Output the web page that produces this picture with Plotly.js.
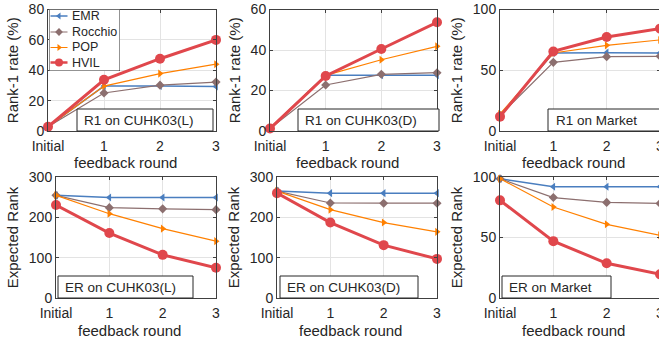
<!DOCTYPE html>
<html>
<head>
<meta charset="utf-8">
<script src="https://cdn.plot.ly/plotly-3.0.1.min.js"></script>
<style>
html,body{margin:0;padding:0;overflow:hidden;background:#fff;width:659px;height:341px;}
#chart{width:662px;height:341px;}
</style>
</head>
<body>
<div id="chart"></div>
<script>
// ---- data ----
const rounds = ['Initial', '1', '2', '3'];
const methods = ['EMR', 'Rocchio', 'POP', 'HVIL'];

const R1_L_EMR     = [2.8, 29.6, 29.6, 29.3];
const R1_L_Rocchio = [2.8, 25.0, 30.2, 32.2];
const R1_L_POP     = [2.8, 29.6, 37.8, 44.0];
const R1_L_HVIL    = [2.8, 33.7, 47.6, 60.0];

const R1_D_EMR     = [1.2, 27.5, 27.5, 27.5];
const R1_D_Rocchio = [1.2, 22.7, 28.0, 28.8];
const R1_D_POP     = [1.5, 27.5, 35.2, 41.8];
const R1_D_HVIL    = [1.2, 27.2, 40.5, 53.7];

const R1_M_EMR     = [13.0, 64.2, 64.5, 64.2];
const R1_M_Rocchio = [13.0, 56.5, 61.2, 61.5];
const R1_M_POP     = [14.0, 64.2, 70.5, 75.0];
const R1_M_HVIL    = [11.8, 65.5, 77.4, 84.3];

const ER_L_EMR     = [254.5, 249, 249, 249];
const ER_L_Rocchio = [254.5, 224, 221, 219];
const ER_L_POP     = [254.5, 209, 172, 141];
const ER_L_HVIL    = [230.6, 161, 107, 75];

const ER_D_EMR     = [265, 260, 260, 260];
const ER_D_Rocchio = [265, 235.5, 235, 235];
const ER_D_POP     = [265, 219, 187, 164];
const ER_D_HVIL    = [260, 187, 131, 97];

const ER_M_EMR     = [98.6, 92, 92, 92];
const ER_M_Rocchio = [98.6, 83, 79, 78.2];
const ER_M_POP     = [98.6, 75.2, 60.9, 51.8];
const ER_M_HVIL    = [80.7, 47, 28.7, 19.6];

const panelLabels = ['R1 on CUHK03(L)', 'R1 on CUHK03(D)', 'R1 on Market',
                     'ER on CUHK03(L)', 'ER on CUHK03(D)', 'ER on Market'];
const yTitles = ['Rank-1 rate (%)', 'Expected Rank'];
const xTitle = 'feedback round';

// ---- layout / style ----
const W = 662, H = 341;
const FONT = '"Liberation Sans", Arial, Helvetica, sans-serif';
const TXT = '#262626';
const styles = {
  EMR:     {color: '#4a7ebf', symbol: 'triangle-left',  size: 7,  width: 1.5, lsize: 6},
  Rocchio: {color: '#8c6f6f', symbol: 'diamond',        size: 7,  width: 1.2, lsize: 6},
  POP:     {color: '#ff8000', symbol: 'triangle-right', size: 7,  width: 1.2, lsize: 6},
  HVIL:    {color: '#e0474c', symbol: 'circle',         size: 10, width: 3,   lsize: 8}
};

const panelData = [
  [R1_L_EMR, R1_L_Rocchio, R1_L_POP, R1_L_HVIL],
  [R1_D_EMR, R1_D_Rocchio, R1_D_POP, R1_D_HVIL],
  [R1_M_EMR, R1_M_Rocchio, R1_M_POP, R1_M_HVIL],
  [ER_L_EMR, ER_L_Rocchio, ER_L_POP, ER_L_HVIL],
  [ER_D_EMR, ER_D_Rocchio, ER_D_POP, ER_D_HVIL],
  [ER_M_EMR, ER_M_Rocchio, ER_M_POP, ER_M_HVIL]
];
const yRanges = [[0, 80], [0, 60], [0, 100], [0, 300], [0, 300], [0, 100]];
const yDticks = [20, 20, 50, 100, 100, 50];

// panel pixel boxes [left, right, top, bottom]
const px = [
  [48, 216, 9.5, 131], [270, 437, 9.5, 131], [500, 660, 9.5, 131],
  [56, 216, 177, 298], [277, 437, 177, 298], [500, 660, 177, 298]
];
// x-title centres in pixels [x, y]
const xtPos = [[125, 162], [347, 162], [573, 162], [129.5, 330], [350.5, 330], [573, 330]];
// annotation boxes [left, right, top, bottom, textLeft]
const bx = [
  [77, 213, 109, 131, 82], [298, 439, 109, 131, 303], [548, 680, 109, 131, 554],
  [58, 193, 276, 298, 63], [280, 418, 276, 298, 285], [502, 611, 276, 298, 507]
];
// legend box in pixels [left, right, top, bottom], row centres, sample line x
const LG = [49, 120, 9.5, 71];
const lgRows = [16, 32, 47.5, 62.5];
const lgLine = [50.5, 59, 67.5];
const lgTextX = 70;

const fx = p => p / W;
const fy = p => 1 - p / H;

const traces = [];
const layout = {
  width: W, height: H,
  margin: {l: 0, r: 0, t: 0, b: 0},
  paper_bgcolor: '#fff', plot_bgcolor: '#fff',
  font: {family: FONT, color: TXT, size: 14},
  showlegend: false,
  shapes: [], annotations: []
};

for (let i = 0; i < 6; i++) {
  const n = i + 1;
  const xa = 'x' + (n === 1 ? '' : n), ya = 'y' + (n === 1 ? '' : n);
  const [l, r, t, b] = px[i];
  const axBase = {
    showline: true, mirror: 'ticks', linecolor: '#404040', linewidth: 1,
    ticks: 'inside', ticklen: 3, tickcolor: '#404040',
    showgrid: true, gridcolor: '#e3e3e3', gridwidth: 1, zeroline: false,
    tickfont: {family: FONT, size: 14, color: TXT}
  };
  layout['xaxis' + (n === 1 ? '' : n)] = Object.assign({}, axBase, {
    domain: [fx(l), fx(r)], anchor: ya,
    type: 'category', range: [0, 3],
    tickvals: rounds, ticktext: rounds, ticklabelstandoff: 2
  });
  layout['yaxis' + (n === 1 ? '' : n)] = Object.assign({}, axBase, {
    domain: [fy(b), fy(t)], anchor: xa,
    range: yRanges[i], dtick: yDticks[i], tick0: 0,
    title: {text: yTitles[i < 3 ? 0 : 1], font: {family: FONT, size: 15, color: TXT}, standoff: 6}
  });
  methods.forEach((m, k) => {
    const s = styles[m];
    traces.push({
      type: 'scatter', mode: 'lines+markers',
      x: rounds, y: panelData[i][k], name: m,
      xaxis: xa, yaxis: ya, cliponaxis: false,
      line: {color: s.color, width: s.width},
      marker: {color: s.color, symbol: s.symbol, size: s.size, line: {width: 0}}
    });
  });
  layout.annotations.push({
    xref: 'paper', yref: 'paper', x: fx(xtPos[i][0]), y: fy(xtPos[i][1]),
    xanchor: 'center', yanchor: 'middle', showarrow: false,
    text: xTitle, font: {family: FONT, size: 15, color: TXT}
  });
  const [bl, br, bt, bb, tl] = bx[i];
  layout.shapes.push({
    type: 'rect', xref: 'paper', yref: 'paper', layer: 'above',
    x0: fx(bl), x1: fx(br), y0: fy(bb), y1: fy(bt),
    fillcolor: '#fff', line: {color: '#262626', width: 1}
  });
  layout.annotations.push({
    xref: 'paper', yref: 'paper', x: fx(tl), y: fy((bt + bb) / 2),
    xanchor: 'left', yanchor: 'middle', showarrow: false,
    text: panelLabels[i], font: {family: FONT, size: 13.5, color: TXT}
  });
}

// ---- custom compact legend on an overlay axis measured in pixels ----
layout.xaxis7 = {domain: [fx(LG[0]), fx(LG[1])], range: [LG[0], LG[1]], visible: false,
                 anchor: 'y7', fixedrange: true};
layout.yaxis7 = {domain: [fy(LG[3]), fy(LG[2])], range: [LG[3], LG[2]], visible: false,
                 anchor: 'x7', fixedrange: true};
layout.shapes.push({
  type: 'rect', xref: 'x7', yref: 'y7', layer: 'between',
  x0: LG[0], x1: LG[1], y0: LG[3], y1: LG[2],
  fillcolor: '#fff', line: {color: '#262626', width: 1}
});
methods.forEach((m, k) => {
  const s = styles[m];
  traces.push({
    type: 'scatter', mode: 'lines', x: [lgLine[0], lgLine[2]], y: [lgRows[k], lgRows[k]],
    xaxis: 'x7', yaxis: 'y7', cliponaxis: false, hoverinfo: 'skip',
    line: {color: s.color, width: Math.min(s.width, 2.5)}
  });
  traces.push({
    type: 'scatter', mode: 'markers', x: [lgLine[1]], y: [lgRows[k]],
    xaxis: 'x7', yaxis: 'y7', cliponaxis: false, hoverinfo: 'skip',
    marker: {color: s.color, symbol: s.symbol, size: s.lsize, line: {width: 0}}
  });
  layout.annotations.push({
    xref: 'paper', yref: 'paper', x: fx(lgTextX), y: fy(lgRows[k]),
    xanchor: 'left', yanchor: 'middle', showarrow: false,
    text: m, font: {family: FONT, size: 12.5, color: TXT}
  });
});

Plotly.newPlot('chart', traces, layout, {displayModeBar: false, staticPlot: true});
</script>
</body>
</html>
